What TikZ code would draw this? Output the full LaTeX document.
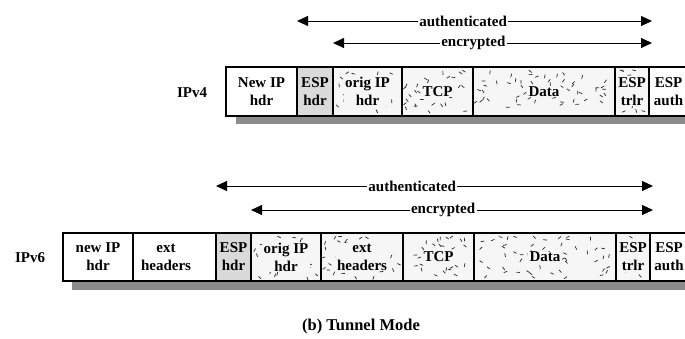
\documentclass[tikz,border=0pt]{standalone}
\usepackage{fontspec}
\setmainfont{Liberation Serif}
\usetikzlibrary{arrows.meta}
\definecolor{shadowgray}{HTML}{8C8C8C}
\definecolor{espgray}{HTML}{DADADA}
\definecolor{patbg}{HTML}{F6F6F6}
\tikzset{
  cellline/.style={line width=2pt},
  frameline/.style={line width=2.8pt},
  dashmark/.style={line width=0.7pt, black!85, line cap=round},
  celltext/.style={font=\fontsize{15}{18}\selectfont\bfseries, align=center, inner sep=0pt},
  pattext/.style={celltext, fill=patbg, inner xsep=1.5pt, inner ysep=0.5pt},
  spanarrow/.style={line width=0.9pt, {Triangle[length=11pt,width=10pt]}-{Triangle[length=11pt,width=10pt]}},
  spanlabel/.style={fill=white, inner xsep=1.5pt, inner ysep=1pt, font=\fontsize{15}{18}\selectfont\bfseries},
  rowlabel/.style={font=\fontsize{15}{18}\selectfont\bfseries},
  captext/.style={font=\fontsize{16.5}{20}\selectfont\bfseries}
}
% random short dashes inside a cell: x0,y0,x1,y1,count
\newcommand{\rdashes}[5]{%
  \fill[patbg] (#1,#2) rectangle (#3,#4);
  \foreach \k in {1,...,#5}{%
    \pgfmathsetmacro{\px}{#1+3+rnd*(#3-#1-8)}%
    \pgfmathsetmacro{\py}{#2+3+rnd*(#4-#2-7)}%
    \pgfmathsetmacro{\pa}{rnd*180}%
    \draw[dashmark] (\px,\py) -- ++(\pa:3.3);
  }}
\begin{document}
\begin{tikzpicture}[x=1pt,y=-1pt]
\clip (0,0) rectangle (685,338);
\fill[white] (0,0) rectangle (685,338);
\pgfmathsetseed{11}

% ---------------- IPv4 ----------------
\fill[shadowgray] (236,75) rectangle (700,124);
\fill[white] (226,67) rectangle (700,116);
\fill[espgray] (297,67) rectangle (333,116);
\rdashes{333}{67}{402}{116}{28}
\rdashes{402}{67}{473}{116}{29}
\rdashes{473}{67}{615}{116}{58}
\rdashes{615}{67}{649}{116}{12}

\node[celltext] (v4new)  at (261.5,91.5) {New IP\\hdr};
\node[celltext] (v4esph) at (315,91.5)   {ESP\\hdr};
\node[pattext]  (v4orig) at (367.5,91.5) {orig IP\\hdr};
\node[pattext]  (v4tcp)  at (437.5,91.5) {TCP};
\node[pattext]  (v4data) at (544,91.5)   {Data};
\node[pattext]  (v4espt) at (632,91.5)   {ESP\\trlr};
\node[celltext] (v4espa) at (668.5,91.5) {ESP\\auth};

\foreach \xx in {297,333,402,473,615,649}{\draw[cellline] (\xx,67) -- (\xx,116);}
\draw[frameline] (700,67) -- (226,67) -- (226,116) -- (700,116);

\node[rowlabel] (lab4) at (192,93) {IPv4};

\coordinate (a4l) at (297,21);
\coordinate (a4r) at (652,21);
\coordinate (e4l) at (333,43);
\coordinate (e4r) at (652,43);
\draw[spanarrow] (a4l) -- node[spanlabel,pos=0.468] (auth4) {authenticated} (a4r);
\draw[spanarrow] (e4l) -- node[spanlabel,pos=0.44] (enc4) {encrypted} (e4r);

% ---------------- IPv6 ----------------
\fill[shadowgray] (72,241) rectangle (700,290);
\fill[white] (63,233) rectangle (700,281);
\fill[espgray] (216,233) rectangle (251,281);
\rdashes{251}{233}{321}{281}{28}
\rdashes{321}{233}{403}{281}{33}
\rdashes{403}{233}{474}{281}{29}
\rdashes{474}{233}{616}{281}{58}
\rdashes{616}{233}{650}{281}{12}

\node[celltext] (v6new)  at (98,257)    {new IP\\hdr};
\node[celltext] (v6ext)  at (166,257)   {ext\\headers};
\node[celltext] (v6esph) at (233.5,257) {ESP\\hdr};
\node[pattext]  (v6orig) at (286,257)   {orig IP\\hdr};
\node[pattext]  (v6ext2) at (362,257)   {ext\\headers};
\node[pattext]  (v6tcp)  at (438.5,257) {TCP};
\node[pattext]  (v6data) at (545,257)   {Data};
\node[pattext]  (v6espt) at (633,257)   {ESP\\trlr};
\node[celltext] (v6espa) at (669,257)   {ESP\\auth};

\foreach \xx in {133,216,251,321,403,474,616,650}{\draw[cellline] (\xx,233) -- (\xx,281);}
\draw[frameline] (700,233) -- (63,233) -- (63,281) -- (700,281);

\node[rowlabel] (lab6) at (30,258) {IPv6};

\coordinate (a6l) at (216,186);
\coordinate (a6r) at (653,186);
\coordinate (e6l) at (251,210);
\coordinate (e6r) at (653,210);
\draw[spanarrow] (a6l) -- node[spanlabel,pos=0.449] (auth6) {authenticated} (a6r);
\draw[spanarrow] (e6l) -- node[spanlabel,pos=0.478] (enc6) {encrypted} (e6r);

% ---------------- caption ----------------
\node[captext] (cap) at (361,327) {(b) Tunnel Mode};
\end{tikzpicture}
\end{document}
